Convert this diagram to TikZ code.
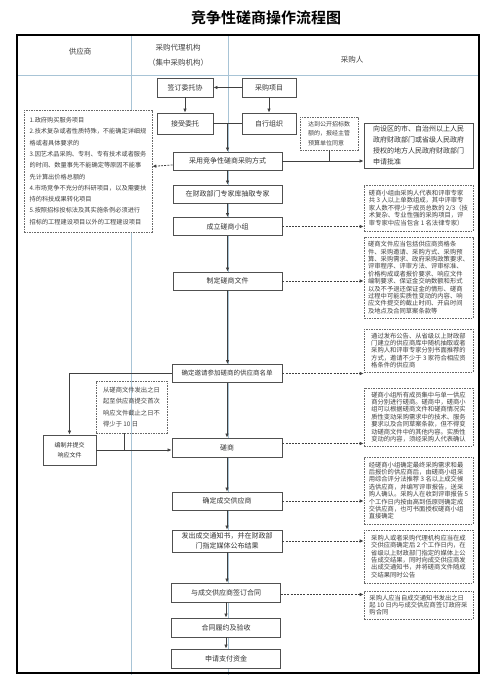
\documentclass[tikz,border=0pt]{standalone}
\usepackage{fontspec}
\setmainfont{Noto Sans CJK SC}
\newfontfamily\titlefont{Noto Sans CJK SC Bold}
\usetikzlibrary{arrows.meta}
\definecolor{laneblue}{RGB}{168,196,214}
\definecolor{boxgray}{RGB}{80,80,80}
\definecolor{notegray}{RGB}{105,105,105}

\begin{document}
\begin{tikzpicture}[
    x=1pt, y=-1pt,
    box/.style={rectangle, draw=boxgray, line width=0.9pt, fill=white, text=black!80, inner sep=0pt, minimum height=18pt, align=center, font=\fontsize{7}{11}\selectfont},
    flowbox/.style={box, minimum width=110pt},
    note/.style={rectangle, draw=notegray, dash pattern=on 1.6pt off 1pt, line width=0.6pt, inner sep=0pt, text=black!75, align=left, font=\fontsize{6.3}{7.4}\selectfont},
    head/.style={text=black!75, align=center, font=\fontsize{7.5}{15}\selectfont},
    arrow/.style={-{Latex[length=4pt,width=3.6pt]}, draw=black!75, line width=0.8pt},
    dasharrow/.style={arrow, dash pattern=on 2pt off 1.2pt},
    link/.style={draw=black!75, line width=0.8pt}
]
\useasboundingbox (0,0) rectangle (498,692);

% Title
\node[font=\titlefont\fontsize{15}{15}\selectfont] (title) at (266,18) {竞争性磋商操作流程图};

% Frame and lanes
\draw[laneblue, line width=0.7pt] (17,75) -- (479,75);
\draw[laneblue, line width=0.7pt] (131,35) -- (131,675);
\draw[laneblue, line width=0.7pt] (228,35) -- (228,675);
\draw[line width=1.1pt] (17,35) rectangle (479,673);

% Header
\node[head] (supplier) at (80,52) {供应商};
\node[head] (agency) at (178,55) {采购代理机构\\（集中采购机构）};
\node[head] (buyer) at (352,60) {采购人};

% Entrust / self-organise
\node[box, minimum width=56pt, minimum height=19pt] (qianding) at (185,87.5) {签订委托协};
\node[box, minimum width=54pt, minimum height=19pt] (xiangmu) at (269,87.5) {采购项目};
\node[box, minimum width=56pt, minimum height=21pt] (jieshou) at (185,123.5) {接受委托};
\node[box, minimum width=54pt, minimum height=21pt] (zixing) at (269,123.5) {自行组织};
\coordinate (merge) at (227.5,123.5);

% Main flow
\node[flowbox, minimum width=109pt] (caiyong) at (227.5,161) {采用竞争性磋商采购方式};
\node[flowbox, minimum width=109pt] (chouqu) at (227.5,194) {在财政部门专家库抽取专家};
\node[flowbox, minimum width=109pt] (xiaozu) at (227.5,226.5) {成立磋商小组};
\node[flowbox, minimum width=109pt] (wenjian) at (227.5,281) {制定磋商文件};
\node[flowbox, font=\fontsize{6.5}{11}\selectfont] (yaoqing) at (227,373.5) {确定邀请参加磋商的供应商名单};
\node[flowbox, minimum height=19pt] (cuoshang) at (227,447.5) {磋商};
\node[flowbox] (chengjiao) at (227,501) {确定成交供应商};
\node[flowbox, minimum height=22pt, font=\fontsize{7}{10}\selectfont] (tongzhi) at (227,541) {发出成交通知书，并在财政部\\门指定媒体公布结果};
\node[flowbox, minimum width=109pt, minimum height=19pt] (hetong) at (226,592.5) {与成交供应商签订合同};
\node[flowbox, minimum width=109pt, minimum height=19pt] (lvyue) at (226,627.5) {合同履约及验收};
\node[flowbox, minimum width=109pt, minimum height=19pt] (zhifu) at (226,658.5) {申请支付资金};

% Supplier side
\node[box, minimum width=53pt, minimum height=30pt, font=\fontsize{6}{10}\selectfont] (bianzhi) at (69.5,450) {编制并提交\\响应文件};
\node[note, minimum width=71pt, minimum height=52pt, font=\fontsize{6.3}{11.3}\selectfont] (shixian) at (131.5,407) {从磋商文件发出之日\\起至供应商提交首次\\响应文件截止之日不\\得少于 10 日};

% Left note: applicable cases
\node[note, fill=white, minimum width=128pt, minimum height=122pt, font=\fontsize{6.2}{11.3}\selectfont] (fanwei) at (88,171) {1.政府购买服务项目\\2.技术复杂或者性质特殊，不能确定详细规\\格或者具体要求的\\3.因艺术品采购、专利、专有技术或者服务\\的时间、数量事先不能确定等原因不能事\\先计算出价格总额的\\4.市场竞争不充分的科研项目，以及需要扶\\持的科技成果转化项目\\5.按照招标投标法及其实施条例必须进行\\招标的工程建设项目以外的工程建设项目};

% Approval
\node[note, minimum width=58pt, minimum height=33pt, font=\fontsize{6}{9.7}\selectfont] (gongkai) at (329,133.5) {达到公开招标数\\额的，报经主管\\预算单位同意};
\node[box, minimum width=109pt, minimum height=45pt, align=left] (pizhun) at (418.5,145.5) {向设区的市、自治州以上人民\\政府财政部门或省级人民政府\\授权的地方人民政府财政部门\\申请批准};

% Right notes
\node[note, minimum width=109pt, minimum height=46pt] (noteA) at (418.5,208) {磋商小组由采购人代表和评审专家\\共 3 人以上单数组成，其中评审专\\家人数不得少于成员总数的 2/3（技\\术复杂、专业性强的采购项目，评\\审专家中应当包含 1 名法律专家）};
\node[note, minimum width=109pt, minimum height=81pt] (noteB) at (418.5,277.5) {磋商文件应当包括供应商资格条\\件、采购邀请、采购方式、采购预\\算、采购需求、政府采购政策要求、\\评审程序、评审方法、评审标准、\\价格构成或者报价要求、响应文件\\编制要求、保证金交纳数额和形式\\以及不予退还保证金的情形、磋商\\过程中可能实质性变动的内容、响\\应文件提交的截止时间、开启时间\\及地点及合同草案条款等};
\node[note, minimum width=109pt, minimum height=43pt] (noteC) at (418.5,350.5) {通过发布公告、从省级以上财政部\\门建立的供应商库中随机抽取或者\\采购人和评审专家分别书面推荐的\\方式，邀请不少于 3 家符合相应资\\格条件的供应商};
\node[note, minimum width=109pt, minimum height=58pt] (noteD) at (418.5,417) {磋商小组所有成员集中与单一供应\\商分别进行磋商。磋商中，磋商小\\组可以根据磋商文件和磋商情况实\\质性变动采购需求中的技术、服务\\要求以及合同草案条款，但不得变\\动磋商文件中的其他内容。实质性\\变动的内容，须经采购人代表确认};
\node[note, minimum width=109pt, minimum height=67pt] (noteE) at (418.5,490.5) {经磋商小组确定最终采购需求和最\\后报价的供应商后，由磋商小组采\\用综合评分法推荐 3 名以上成交候\\选供应商，并编写评审报告，送采\\购人确认。采购人在收到评审报告 5\\个工作日内按由高到低原则确定成\\交供应商，也可书面授权磋商小组\\直接确定};
\node[note, minimum width=109pt, minimum height=53pt] (noteF) at (418.5,556.5) {采购人或者采购代理机构应当在成\\交供应商确定后 2 个工作日内，在\\省级以上财政部门指定的媒体上公\\告成交结果，同时向成交供应商发\\出成交通知书，并将磋商文件随成\\交结果同时公告};
\node[note, minimum width=109pt, minimum height=28pt] (noteG) at (418.5,605) {采购人应当自成交通知书发出之日\\起 10 日内与成交供应商签订政府采\\购合同};

% Arrows: entrust part
\draw[arrow] (xiangmu) -- (qianding);
\draw[arrow] (qianding) -- (jieshou);
\draw[arrow] (xiangmu) -- (zixing);
\draw[link] (jieshou) -- (zixing);
\draw[arrow] (merge) -- (caiyong);
\draw[dasharrow] (caiyong) -- (fanwei);
\draw[arrow] (caiyong) -- (caiyong -| pizhun.west);
\draw[link] (gongkai) |- (caiyong.east);

% Arrows: main flow
\draw[arrow] (caiyong) -- (chouqu);
\draw[arrow] (chouqu) -- (xiaozu);
\draw[arrow] (xiaozu) -- (wenjian);
\draw[arrow] (wenjian) -- (wenjian |- yaoqing.north);
\draw[arrow] (yaoqing) -- (yaoqing |- cuoshang.north);
\draw[arrow] (cuoshang) -- (chengjiao);
\draw[arrow] (chengjiao) -- (tongzhi);
\draw[arrow] (tongzhi) -- (tongzhi |- hetong.north);
\draw[arrow] (hetong) -- (lvyue);
\draw[arrow] (lvyue) -- (zhifu);

% Arrows: supplier
\draw[arrow] (yaoqing.west) -| (bianzhi.north);
\draw[arrow] (bianzhi.east) -- (bianzhi.east -| cuoshang.west);
\draw[link] ([xshift=-7pt]shixian.south) |- (bianzhi.east);

% Arrows: notes
\draw[dasharrow] (xiaozu.east) -- (xiaozu.east -| noteA.west);
\draw[dasharrow] (wenjian.east) -- (wenjian.east -| noteB.west);
\draw[dasharrow] (yaoqing.east) -- (yaoqing.east -| noteC.west);
\draw[dasharrow] ([yshift=4pt]cuoshang.east) -- ([yshift=4pt]cuoshang.east -| noteD.west);
\draw[dasharrow] (chengjiao.east) -- (chengjiao.east -| noteE.west);
\draw[dasharrow] (tongzhi.east) -- (tongzhi.east -| noteF.west);
\draw[dasharrow] ([yshift=-2pt]hetong.east) -- ([yshift=-2pt]hetong.east -| noteG.west);

\end{tikzpicture}
\end{document}
